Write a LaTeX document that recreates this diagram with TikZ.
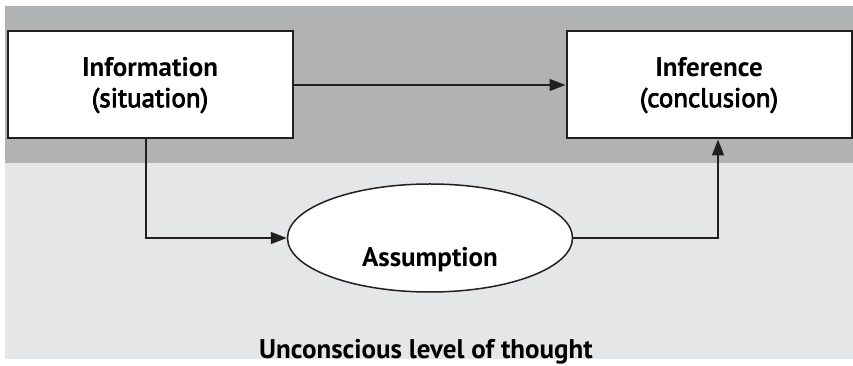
\documentclass[tikz,border=0pt]{standalone}
\usepackage{fontspec}
\setmainfont{PT Sans}
\newfontfamily\semifont[FakeBold=3]{PT Sans}
\usepackage{xcolor}
\usetikzlibrary{shapes.geometric,arrows.meta}

\definecolor{bandDark}{HTML}{B1B2B4}
\definecolor{bandLight}{HTML}{E5E6E7}
\definecolor{inkLine}{HTML}{231F20}

\begin{document}
\begin{tikzpicture}[x=1pt, y=1pt,
    box/.style={draw=inkLine, line width=2pt, fill=white, minimum width=285pt,
        minimum height=107pt, align=center, font=\fontsize{27}{31}\selectfont},
    bubble/.style={draw=inkLine, line width=1.5pt, fill=white, ellipse,
        minimum width=285pt, minimum height=108pt, inner sep=0pt},
    link/.style={draw=inkLine, line width=1.6pt, -{Triangle[length=16pt, width=12pt]}}]
    \useasboundingbox (0,0) rectangle (853,366);

    % Background bands
    \fill[bandDark] (5,360) rectangle (853,203);
    \fill[bandLight] (5,203) rectangle (853,7);

    % Boxes
    \node[box] (info) at (150,281) {\textbf{Information}\\{\semifont(situation)}};
    \node[box] (infer) at (709,281) {\textbf{Inference}\\{\semifont(conclusion)}};

    % Assumption
    \node[bubble] (assum) at (430,128) {};
    \node[font=\fontsize{27}{31}\selectfont\bfseries] (assumtxt) at ([yshift=-22pt]assum.center) {Assumption};

    % Connectors
    \draw[link] (info.east) -- (infer.west);
    \draw[link] ([xshift=-4pt]info.south) |- (assum.west);
    \draw[link] (assum.east) -| ([xshift=9pt]infer.south);

    \node[anchor=base, font=\fontsize{27}{31}\selectfont\bfseries] (level) at (426,7) {Unconscious level of thought};
\end{tikzpicture}
\end{document}
